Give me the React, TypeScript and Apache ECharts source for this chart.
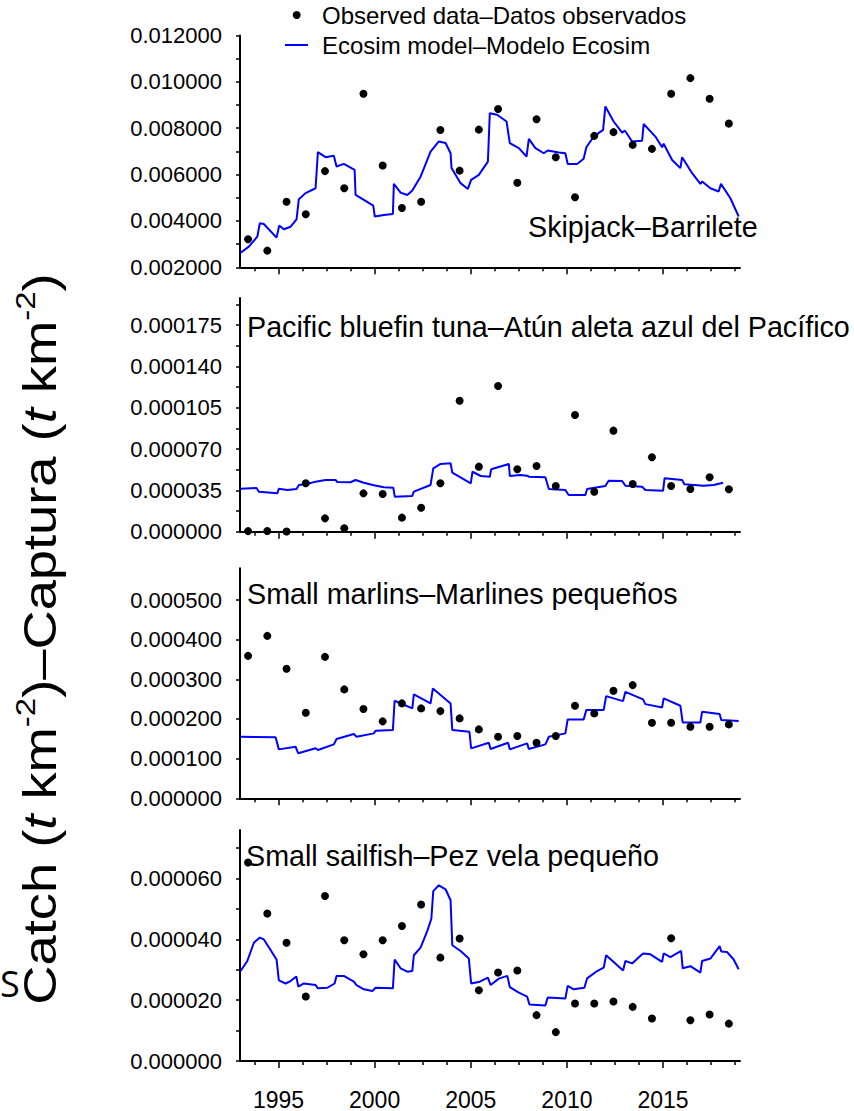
import React, { useEffect, useRef } from 'react';
import * as echarts from 'echarts';

const FONT = '"Liberation Sans", Arial, Helvetica, sans-serif';

const years = [1993, 1994, 1995, 1996, 1997, 1998, 1999, 2000, 2001, 2002, 2003, 2004, 2005, 2006, 2007, 2008, 2009, 2010, 2011, 2012, 2013, 2014, 2015, 2016, 2017, 2018];
const MID_YEAR = 0.42;

const xMajorTicks = [1995, 2000, 2005, 2010, 2015];
const xMinorTicks = [1993.75, 1996.25, 1997.5, 1998.75, 2001.25, 2002.5, 2003.75, 2006.25, 2007.5, 2008.75, 2011.25, 2012.5, 2013.75, 2016.25, 2017.5, 2018.75];

// Panel 1: Skipjack
const skipjackObs = [0.00321, 0.00272, 0.00483, 0.00429, 0.00615, 0.00541, 0.00949, 0.00639, 0.00456, 0.00483, 0.00792, 0.00617, 0.00794, 0.00883, 0.00565, 0.00839, 0.00675, 0.00502, 0.00767, 0.00783, 0.00728, 0.00711, 0.00949, 0.01016, 0.00927, 0.0082];
const skipjackModel = [[1993.03, 0.00263], [1993.46, 0.00289], [1993.9, 0.00332], [1994.03, 0.0039], [1994.24, 0.00387], [1994.9, 0.00328], [1995.04, 0.0038], [1995.28, 0.00364], [1995.63, 0.00375], [1995.94, 0.00407], [1996.06, 0.00494], [1996.41, 0.0052], [1996.93, 0.00541], [1997.05, 0.00697], [1997.45, 0.00675], [1997.88, 0.00681], [1998.02, 0.00635], [1998.4, 0.00646], [1998.96, 0.0062], [1999.01, 0.00512], [1999.44, 0.00491], [1999.93, 0.00466], [2000.01, 0.00419], [2000.48, 0.00426], [2000.95, 0.0043], [2001.0, 0.0056], [2001.35, 0.00522], [2001.7, 0.00512], [2001.96, 0.00531], [2002.39, 0.00591], [2002.91, 0.00699], [2003.34, 0.00743], [2003.69, 0.00736], [2003.95, 0.00692], [2004.0, 0.00628], [2004.47, 0.00563], [2004.85, 0.00538], [2005.02, 0.00577], [2005.42, 0.00599], [2005.89, 0.00656], [2005.99, 0.00865], [2006.37, 0.00858], [2006.86, 0.00829], [2007.03, 0.00736], [2007.5, 0.00714], [2007.9, 0.00678], [2008.02, 0.00754], [2008.36, 0.00714], [2008.8, 0.00692], [2009.0, 0.00704], [2009.58, 0.00695], [2009.92, 0.00692], [2010.04, 0.00646], [2010.53, 0.00646], [2010.87, 0.00668], [2011.01, 0.00718], [2011.39, 0.00764], [2011.88, 0.00793], [2012.0, 0.00894], [2012.43, 0.00829], [2012.87, 0.00781], [2013.01, 0.0079], [2013.39, 0.00743], [2013.91, 0.00746], [2013.99, 0.00818], [2014.6, 0.00764], [2014.95, 0.00718], [2015.03, 0.00733], [2015.47, 0.00663], [2015.9, 0.00628], [2015.99, 0.00675], [2016.51, 0.00606], [2016.94, 0.0056], [2017.03, 0.0057], [2017.46, 0.00541], [2017.89, 0.00527], [2018.01, 0.0056], [2018.5, 0.00498], [2018.93, 0.00419]];
const skipjackLabels = [0.002, 0.004, 0.006, 0.008, 0.01, 0.012];
const skipjackTicks = [0.002, 0.003, 0.004, 0.005, 0.006, 0.007, 0.008, 0.009, 0.01, 0.011, 0.012];

// Panel 2: Pacific bluefin tuna
const bluefinObs = [0.5e-6, 0.6e-6, 0.1e-6, 41.0e-6, 11.3e-6, 2.9e-6, 32.5e-6, 32.0e-6, 11.9e-6, 20.3e-6, 41.0e-6, 111.0e-6, 55.1e-6, 123.5e-6, 52.9e-6, 55.7e-6, 38.7e-6, 98.9e-6, 33.9e-6, 85.6e-6, 40.4e-6, 63.1e-6, 38.7e-6, 36.2e-6, 46.1e-6, 35.9e-6];
const bluefinModel = [[1993.03, 36.4e-6], [1993.86, 37.0e-6], [1993.98, 33.9e-6], [1994.94, 32.5e-6], [1995.02, 36.4e-6], [1995.46, 35.3e-6], [1995.94, 36.2e-6], [1996.06, 39.6e-6], [1996.5, 40.4e-6], [1996.93, 42.4e-6], [1997.45, 43.8e-6], [1997.97, 43.8e-6], [1998.06, 42.1e-6], [1998.75, 41.9e-6], [1999.01, 43.8e-6], [1999.44, 41.5e-6], [1999.96, 39.3e-6], [2000.48, 37.6e-6], [2000.97, 37.3e-6], [2001.05, 29.7e-6], [2001.96, 30.3e-6], [2002.04, 33.9e-6], [2002.91, 39.6e-6], [2003.05, 53.7e-6], [2003.43, 57.4e-6], [2003.95, 58.0e-6], [2004.04, 50.0e-6], [2005.0, 41.0e-6], [2005.09, 50.8e-6], [2005.52, 47.2e-6], [2005.99, 46.6e-6], [2006.06, 52.9e-6], [2006.98, 57.4e-6], [2007.03, 47.2e-6], [2007.58, 48.1e-6], [2007.93, 47.5e-6], [2008.02, 46.6e-6], [2008.88, 46.1e-6], [2009.06, 36.2e-6], [2009.92, 35.3e-6], [2010.09, 31.1e-6], [2010.96, 31.1e-6], [2011.05, 36.2e-6], [2012.0, 38.7e-6], [2012.17, 43.2e-6], [2012.87, 43.0e-6], [2013.04, 39.0e-6], [2013.91, 38.1e-6], [2014.08, 35.3e-6], [2015.0, 34.7e-6], [2015.08, 45.3e-6], [2015.99, 43.8e-6], [2016.11, 40.2e-6], [2017.11, 39.0e-6], [2017.63, 39.6e-6], [2018.12, 41.5e-6]];
const bluefinLabels = [0, 0.000035, 0.00007, 0.000105, 0.00014, 0.000175];
const bluefinTicks = [0, 0.0000175, 0.000035, 0.0000525, 0.00007, 0.0000875, 0.000105, 0.0001225, 0.00014, 0.0001575, 0.000175, 0.0001925];

// Panel 3: Small marlins
const marlinObs = [359.2e-6, 409.6e-6, 326.5e-6, 215.6e-6, 356.7e-6, 274.6e-6, 225.0e-6, 194.0e-6, 239.3e-6, 226.7e-6, 219.9e-6, 201.5e-6, 173.8e-6, 155.2e-6, 156.9e-6, 140.1e-6, 156.9e-6, 233.3e-6, 214.1e-6, 271.0e-6, 285.4e-6, 190.4e-6, 190.4e-6, 180.4e-6, 180.4e-6, 186.4e-6];
const marlinModel = [[1993.03, 155.2e-6], [1994.85, 153.7e-6], [1995.02, 123.4e-6], [1995.89, 130.0e-6], [1996.03, 113.4e-6], [1996.93, 126.0e-6], [1997.05, 121.7e-6], [1997.88, 136.0e-6], [1998.02, 149.4e-6], [1998.92, 162.0e-6], [1999.06, 155.2e-6], [1999.96, 163.7e-6], [2000.05, 170.3e-6], [2000.95, 172.0e-6], [2001.04, 245.9e-6], [2001.96, 226.7e-6], [2002.04, 262.0e-6], [2002.91, 239.3e-6], [2003.03, 277.1e-6], [2003.95, 239.3e-6], [2004.04, 172.0e-6], [2004.93, 167.8e-6], [2005.02, 126.0e-6], [2005.94, 140.1e-6], [2006.03, 124.2e-6], [2006.94, 140.1e-6], [2007.03, 123.4e-6], [2007.93, 138.5e-6], [2008.02, 124.2e-6], [2008.88, 136.0e-6], [2009.06, 155.2e-6], [2009.92, 163.7e-6], [2010.04, 199.0e-6], [2010.87, 199.0e-6], [2011.01, 222.4e-6], [2011.91, 222.4e-6], [2012.04, 257.7e-6], [2012.92, 245.1e-6], [2013.04, 268.5e-6], [2013.96, 249.4e-6], [2014.08, 237.5e-6], [2014.95, 229.2e-6], [2015.03, 251.9e-6], [2015.9, 233.3e-6], [2016.02, 191.4e-6], [2016.94, 191.4e-6], [2017.03, 218.1e-6], [2017.94, 212.4e-6], [2018.03, 197.2e-6], [2018.93, 194.7e-6]];
const marlinLabels = [0, 0.0001, 0.0002, 0.0003, 0.0004, 0.0005];
const marlinTicks = [0, 0.0001, 0.0002, 0.0003, 0.0004, 0.0005];

// Panel 4: Small sailfish
const sailfishObs = [65.3e-6, 48.5e-6, 38.9e-6, 21.2e-6, 54.3e-6, 39.7e-6, 35.1e-6, 39.7e-6, 44.4e-6, 51.5e-6, 34.0e-6, 40.3e-6, 23.3e-6, 29.1e-6, 29.8e-6, 15.1e-6, 9.5e-6, 18.9e-6, 18.9e-6, 19.6e-6, 17.8e-6, 14.0e-6, 40.4e-6, 13.4e-6, 15.3e-6, 12.3e-6];
const sailfishModel = [[1993.03, 29.6e-6], [1993.38, 32.9e-6], [1993.72, 38.9e-6], [1994.03, 40.6e-6], [1994.24, 40.0e-6], [1994.59, 36.5e-6], [1994.9, 33.4e-6], [1995.02, 26.5e-6], [1995.37, 25.5e-6], [1995.63, 26.3e-6], [1995.93, 27.8e-6], [1996.03, 24.5e-6], [1996.32, 25.5e-6], [1996.93, 25.0e-6], [1997.05, 23.9e-6], [1997.54, 24.1e-6], [1997.92, 25.5e-6], [1998.02, 28.0e-6], [1998.4, 28.0e-6], [1998.92, 26.1e-6], [1999.06, 25.0e-6], [1999.44, 23.6e-6], [1999.88, 23.0e-6], [2000.05, 24.1e-6], [2000.95, 23.9e-6], [2001.04, 33.4e-6], [2001.35, 30.5e-6], [2001.7, 29.4e-6], [2001.96, 29.6e-6], [2002.04, 34.8e-6], [2002.39, 37.3e-6], [2002.74, 42.8e-6], [2002.95, 46.8e-6], [2003.05, 55.9e-6], [2003.34, 57.8e-6], [2003.69, 56.5e-6], [2003.95, 52.9e-6], [2004.04, 38.1e-6], [2004.47, 36.2e-6], [2004.9, 33.7e-6], [2005.02, 25.5e-6], [2005.47, 26.1e-6], [2005.89, 27.4e-6], [2006.03, 25.0e-6], [2006.46, 27.1e-6], [2006.9, 28.0e-6], [2007.03, 24.3e-6], [2007.5, 22.5e-6], [2007.93, 21.2e-6], [2008.05, 18.6e-6], [2008.88, 18.3e-6], [2009.0, 20.9e-6], [2009.92, 20.6e-6], [2010.04, 24.7e-6], [2010.35, 23.6e-6], [2010.91, 24.1e-6], [2011.05, 27.2e-6], [2011.57, 29.6e-6], [2011.91, 30.7e-6], [2012.04, 34.8e-6], [2012.43, 32.6e-6], [2012.92, 29.8e-6], [2013.04, 32.9e-6], [2013.39, 32.1e-6], [2013.91, 35.1e-6], [2013.99, 35.4e-6], [2014.34, 35.1e-6], [2014.95, 32.6e-6], [2015.03, 35.4e-6], [2015.38, 34.2e-6], [2015.94, 36.2e-6], [2016.02, 30.5e-6], [2016.42, 31.2e-6], [2016.94, 29.1e-6], [2017.03, 32.9e-6], [2017.46, 33.7e-6], [2017.94, 37.8e-6], [2018.03, 36.0e-6], [2018.32, 35.9e-6], [2018.67, 33.4e-6], [2018.93, 30.2e-6]];
const sailfishLabels = [0, 0.00002, 0.00004, 0.00006];
const sailfishTicks = [0, 0.00001, 0.00002, 0.00003, 0.00004, 0.00005, 0.00006, 0.00007];

const panelTitles = [
  'Skipjack\u2013Barrilete',
  'Pacific bluefin tuna\u2013At\u00fan aleta azul del Pac\u00edfico',
  'Small marlins\u2013Marlines peque\u00f1os',
  'Small sailfish\u2013Pez vela peque\u00f1o',
];
const legendNames = ['Observed data\u2013Datos observados', 'Ecosim model\u2013Modelo Ecosim'];

const panels = [
  { obs: skipjackObs, model: skipjackModel, labels: skipjackLabels, ticks: skipjackTicks, min: 0.002, max: 0.012 },
  { obs: bluefinObs, model: bluefinModel, labels: bluefinLabels, ticks: bluefinTicks, min: 0, max: 0.000198 },
  { obs: marlinObs, model: marlinModel, labels: marlinLabels, ticks: marlinTicks, min: 0, max: 0.00058 },
  { obs: sailfishObs, model: sailfishModel, labels: sailfishLabels, ticks: sailfishTicks, min: 0, max: 0.000076 },
];

// layout
const GRID_LEFT = 240;
const GRID_WIDTH = 500;
const gridBoxes = [
  { top: 35.5, height: 231.8 },
  { top: 298, height: 233.7 },
  { top: 568.3, height: 230 },
  { top: 830, height: 231.7 },
];
const titleBoxes = [
  { x: 528, y: 227 },
  { x: 247, y: 327 },
  { x: 247, y: 594 },
  { x: 246, y: 856 },
];

export default function App() {
  const ref = useRef<HTMLDivElement>(null);
  useEffect(() => {
    if (!ref.current) return;
    const chart = echarts.init(ref.current, null, { renderer: 'svg' });
    const axisLineStyle = { color: '#000', width: 2 };
    const tickLineStyle = { color: '#000', width: 1.5 };

    const grid = gridBoxes.map((g) => ({ left: GRID_LEFT, width: GRID_WIDTH, top: g.top, height: g.height, containLabel: false }));
    const xAxis: any[] = [];
    const yAxis: any[] = [];
    const series: any[] = [];
    panels.forEach((p, i) => {
      xAxis.push({
        type: 'value', gridIndex: i, min: 1993, max: 2019, position: 'bottom',
        axisLine: { show: true, onZero: false, lineStyle: axisLineStyle },
        axisTick: { show: true, length: 7, customValues: xMajorTicks, lineStyle: tickLineStyle },
        axisLabel: {
          show: i === 3, customValues: xMajorTicks, fontSize: 23, fontFamily: FONT, color: '#000', margin: 27,
          formatter: (v: number) => String(Math.round(v)),
        },
        splitLine: { show: false },
      });
      xAxis.push({
        type: 'value', gridIndex: i, min: 1993, max: 2019, position: 'bottom',
        axisLine: { show: false, onZero: false },
        axisTick: { show: true, length: 4, customValues: xMinorTicks, lineStyle: tickLineStyle },
        axisLabel: { show: false },
        splitLine: { show: false },
      });
      yAxis.push({
        type: 'value', gridIndex: i, min: p.min, max: p.max,
        axisLine: { show: true, onZero: false, lineStyle: axisLineStyle },
        axisTick: { show: true, length: 4, customValues: p.ticks, lineStyle: tickLineStyle },
        axisLabel: {
          customValues: p.labels, fontSize: 22, fontFamily: FONT, color: '#000', margin: 18,
          formatter: (v: number) => v.toFixed(6),
        },
        splitLine: { show: false },
      });
      series.push({
        type: 'line', name: legendNames[1], xAxisIndex: i * 2, yAxisIndex: i,
        data: p.model, symbol: 'none', showSymbol: false,
        lineStyle: { color: '#0000ff', width: 2 }, itemStyle: { color: '#0000ff' }, z: 2,
      });
      series.push({
        type: 'scatter', name: legendNames[0], xAxisIndex: i * 2, yAxisIndex: i,
        data: years.map((y, k) => [y + MID_YEAR, p.obs[k]]),
        symbol: 'circle', symbolSize: 8, itemStyle: { color: '#000', opacity: 1 }, z: 3,
      });
    });

    const graphic: any[] = [];
    titleBoxes.forEach((t, i) => {
      graphic.push({
        type: 'text', x: t.x, y: t.y, z: 10,
        style: { text: panelTitles[i], fontSize: 28.7, fontFamily: FONT, fill: '#000', align: 'left', verticalAlign: 'middle' },
      });
    });
    // legend
    graphic.push({ type: 'circle', shape: { cx: 296.7, cy: 15, r: 4 }, style: { fill: '#000' } });
    graphic.push({ type: 'line', shape: { x1: 285, y1: 45, x2: 308, y2: 45 }, style: { stroke: '#0000ff', lineWidth: 2 } });
    graphic.push({ type: 'text', x: 322, y: 15, style: { text: legendNames[0], fontSize: 24, fontFamily: FONT, fill: '#000', align: 'left', verticalAlign: 'middle' } });
    graphic.push({ type: 'text', x: 322, y: 45, style: { text: legendNames[1], fontSize: 24, fontFamily: FONT, fill: '#000', align: 'left', verticalAlign: 'middle' } });
    // y-axis title
    graphic.push({
      type: 'text', x: 37, y: 639, rotation: Math.PI / 2, scaleX: 1.18, scaleY: 1,
      style: {
        text: '{n|Catch (}{i|t}{n| km}{s|-2}{n|)\u2013Captura (}{i|t}{n| km}{s|-2}{n|)}',
        align: 'center', verticalAlign: 'middle', fill: '#000',
        rich: {
          n: { fontSize: 46, fontFamily: FONT, fill: '#000', lineHeight: 52, verticalAlign: 'bottom' },
          i: { fontSize: 46, fontFamily: FONT, fontStyle: 'italic', fill: '#000', lineHeight: 52, verticalAlign: 'bottom' },
          s: { fontSize: 28, fontFamily: FONT, fill: '#000', lineHeight: 52, verticalAlign: 'top' },
        },
      },
    });
    // cropped letter at left edge
    graphic.push({ type: 'text', x: 0, y: 983, style: { text: 'S', fontSize: 36, fontFamily: '"Open Sans", "Noto Sans", sans-serif', fill: '#000', align: 'left', verticalAlign: 'middle' } });

    chart.setOption({ animation: false, backgroundColor: '#fff', grid, xAxis, yAxis, series, graphic });
    return () => chart.dispose();
  }, []);
  return <div ref={ref} style={{ position: 'absolute', left: 0, top: 0, width: 854, height: 1111 }} />;
}
